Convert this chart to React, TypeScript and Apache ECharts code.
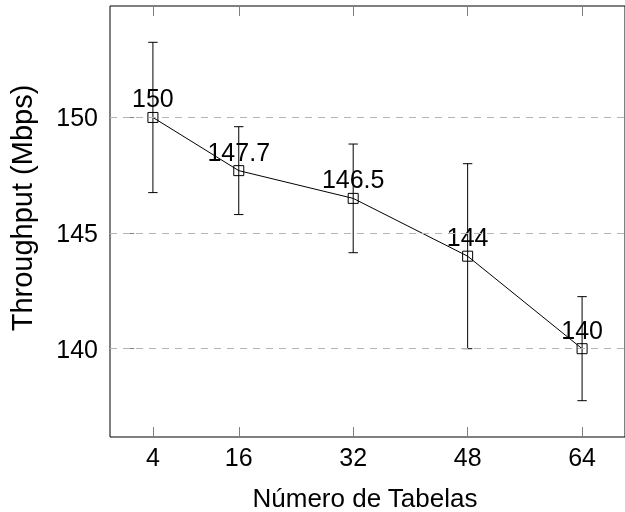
import React, { useEffect, useRef } from "react";
import * as echarts from "echarts";

const tableCounts = [4, 16, 32, 48, 64];
const throughput = [150, 147.7, 146.5, 144, 140];
const errLow = [146.75, 145.8, 144.15, 140, 137.75];
const errHigh = [153.25, 149.6, 148.85, 148, 142.25];
const yTicks = [140, 145, 150];
const labelTexts = ["150", "147.7", "146.5", "144", "140"];

const FONT = "Liberation Sans";

export default function App() {
  const ref = useRef<HTMLDivElement>(null);
  useEffect(() => {
    if (!ref.current) return;
    const chart = echarts.init(ref.current, undefined, { renderer: "svg" });
    const points = tableCounts.map((x, i) => [x, throughput[i]]);
    const bars = tableCounts.map((x, i) => [x, errLow[i], errHigh[i]]);
    const tickStyle = { show: true, inside: true, length: 10, lineStyle: { color: "#808080", width: 1 } };
    chart.setOption({
      animation: false,
      grid: {
        left: 110,
        top: 6,
        width: 516.5,
        height: 431,
        show: true,
        borderColor: "#000",
        borderWidth: 1,
        backgroundColor: "transparent",
      },
      xAxis: [
        {
          type: "value",
          min: -2,
          max: 70,
          axisLine: { show: false },
          splitLine: { show: false },
          axisTick: { ...tickStyle, customValues: tableCounts },
          axisLabel: {
            customValues: tableCounts,
            margin: 7,
            fontSize: 25,
            fontFamily: FONT,
            color: "#000",
          },
        },
        {
          type: "value",
          position: "top",
          min: -2,
          max: 70,
          axisLine: { show: false },
          splitLine: { show: false },
          axisTick: { ...tickStyle, customValues: tableCounts },
          axisLabel: { show: false, customValues: tableCounts },
        },
      ],
      yAxis: [
        {
          type: "value",
          min: 136.18,
          max: 154.82,
          axisLine: { show: false },
          splitLine: { show: false },
          axisTick: { ...tickStyle, customValues: yTicks },
          axisLabel: {
            customValues: yTicks,
            margin: 12,
            fontSize: 25,
            fontFamily: FONT,
            color: "#000",
          },
        },
      ],
      graphic: [
        {
          type: "text",
          x: 365,
          y: 497.5,
          style: {
            text: "Número de Tabelas",
            fontSize: 26,
            fontFamily: FONT,
            fill: "#000",
            align: "center",
            verticalAlign: "middle",
          },
        },
        {
          type: "text",
          x: 22,
          y: 208,
          rotation: Math.PI / 2,
          style: {
            text: "Throughput (Mbps)",
            fontSize: 29,
            fontFamily: FONT,
            fill: "#000",
            align: "center",
            verticalAlign: "middle",
          },
        },
      ],
      series: [
        {
          type: "line",
          data: [],
          z: 1,
          silent: true,
          markLine: {
            silent: true,
            symbol: "none",
            label: { show: false },
            lineStyle: { color: "#b4b4b4", type: [7, 6], width: 1 },
            data: yTicks.map((v) => ({ yAxis: v })),
          },
        },
        {
          type: "custom",
          z: 3,
          data: bars,
          renderItem: (params: any, api: any) => {
            const x = api.value(0);
            const lo = api.coord([x, api.value(1)]);
            const hi = api.coord([x, api.value(2)]);
            const w = 4.7;
            const style = { stroke: "#000", lineWidth: 1 };
            return {
              type: "group",
              children: [
                { type: "line", shape: { x1: lo[0], y1: lo[1], x2: hi[0], y2: hi[1] }, style },
                { type: "line", shape: { x1: lo[0] - w, y1: lo[1], x2: lo[0] + w, y2: lo[1] }, style },
                { type: "line", shape: { x1: hi[0] - w, y1: hi[1], x2: hi[0] + w, y2: hi[1] }, style },
              ],
            };
          },
        },
        {
          type: "line",
          z: 4,
          data: points,
          symbol: "rect",
          symbolSize: 10,
          showAllSymbol: true,
          lineStyle: { color: "#000", width: 1 },
          itemStyle: { color: "transparent", borderColor: "#000", borderWidth: 1 },
          label: {
            show: true,
            position: "top",
            distance: 1,
            fontSize: 25,
            fontFamily: FONT,
            color: "#000",
            formatter: (p: any) => labelTexts[p.dataIndex],
          },
        },
      ],
    });
    return () => chart.dispose();
  }, []);
  return (
    <div
      ref={ref}
      style={{ position: "fixed", left: 0, top: 0, width: 625, height: 512 }}
    />
  );
}
